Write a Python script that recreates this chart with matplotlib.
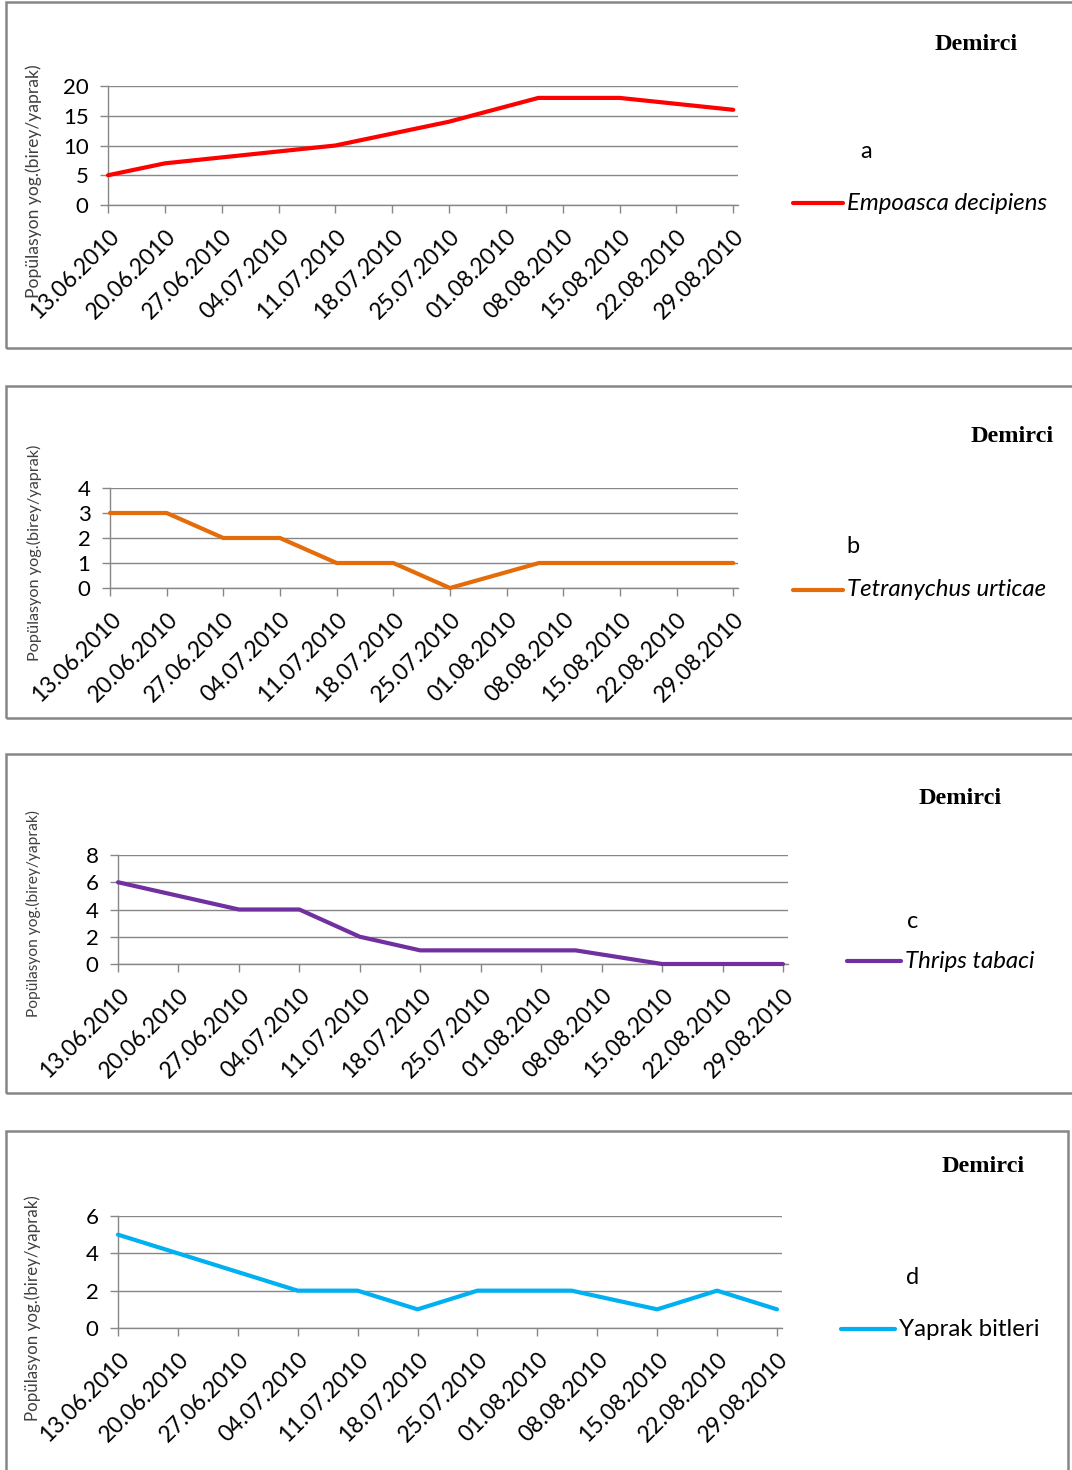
import matplotlib
matplotlib.use("Agg")
import matplotlib.pyplot as plt
from matplotlib.patches import Rectangle
from matplotlib.lines import Line2D
import pandas as pd

# ---- data -------------------------------------------------------------
sample_dates = ["13.06.2010", "20.06.2010", "27.06.2010", "04.07.2010",
                "11.07.2010", "18.07.2010", "25.07.2010", "05.08.2010",
                "15.08.2010", "22.08.2010", "29.08.2010"]

tick_labels = ["13.06.2010", "20.06.2010", "27.06.2010", "04.07.2010",
               "11.07.2010", "18.07.2010", "25.07.2010", "01.08.2010",
               "08.08.2010", "15.08.2010", "22.08.2010", "29.08.2010"]

empoasca = [5, 7, 8, 9, 10, 12, 14, 18, 18, 17, 16]
tetranychus = [3, 3, 2, 2, 1, 1, 0, 1, 1, 1, 1]
thrips = [6, 5, 4, 4, 2, 1, 1, 1, 0, 0, 0]
aphids = [5, 4, 3, 2, 2, 1, 2, 2, 1, 2, 1]

series_names = ["Empoasca decipiens", "Tetranychus urticae", "Thrips tabaci", "Yaprak bitleri"]
panel_letters = ["a", "b", "c", "d"]
location = "Demirci"
y_label = "Popülasyon yog.(birey/yaprak)"

# ---- figure -----------------------------------------------------------
W, H = 1072, 1470
fig = plt.figure(figsize=(W / 100, H / 100), dpi=100)
fig.patch.set_facecolor("white")

SANS = ["Lato", "DejaVu Sans"]
SERIF = ["Liberation Serif", "DejaVu Serif"]
GRID = "#878787"


def fx(x):
    return x / W


def fy(y):
    return 1 - y / H


x_dates = pd.to_datetime(sample_dates, format="%d.%m.%Y")
x_ticks = pd.to_datetime(tick_labels, format="%d.%m.%Y")

panels = [
    dict(vals=empoasca, color="#FF0000", ymax=20, ystep=5, italic=True,
         box=(6, 2, 1090, 348), plot=(108, 86, 738, 205),
         title=(976, 44), letter=(866, 151), leg=(793, 843, 203),
         ylab=(34, 181), ylab_size=12.6),
    dict(vals=tetranychus, color="#E46C0A", ymax=4, ystep=1, italic=True,
         box=(6, 386, 1090, 718), plot=(110, 488, 738, 588),
         title=(1012, 437), letter=(853, 547), leg=(793, 843, 590),
         ylab=(34, 553), ylab_size=11.7),
    dict(vals=thrips, color="#7030A0", ymax=8, ystep=2, italic=True,
         box=(6, 754, 1090, 1093), plot=(118, 855, 788, 964),
         title=(960, 799), letter=(913, 922), leg=(847, 901, 961),
         ylab=(33, 913), ylab_size=11.2),
    dict(vals=aphids, color="#00B0F0", ymax=6, ystep=2, italic=False,
         box=(6, 1131, 1068, 1490), plot=(118, 1216, 782, 1328),
         title=(983, 1166), letter=(913, 1278), leg=(841, 895, 1329),
         ylab=(33, 1308), ylab_size=12.2),
]

for p, name, letter in zip(panels, series_names, panel_letters):
    # panel frame
    bx0, by0, bx1, by1 = p["box"]
    fig.add_artist(Rectangle((fx(bx0), fy(by1)), fx(bx1) - fx(bx0), (by1 - by0) / H,
                             transform=fig.transFigure, fill=False,
                             edgecolor="#868686", linewidth=1.8, clip_on=False))

    x0, y0, x1, y1 = p["plot"]
    ax = fig.add_axes([fx(x0), fy(y1), fx(x1) - fx(x0), (y1 - y0) / H])
    ax.plot(x_dates, p["vals"], color=p["color"], lw=3.0,
            solid_joinstyle="round", solid_capstyle="round", clip_on=False, zorder=3)

    ax.set_ylim(0, p["ymax"])
    ax.set_yticks(range(0, p["ymax"] + 1, p["ystep"]))
    ax.set_xlim(x_dates[0], x_dates[-1] + pd.Timedelta(hours=14))
    ax.set_xticks(x_ticks)
    ax.set_xticklabels(tick_labels, rotation=45, ha="right", va="top",
                       rotation_mode="anchor", family=SANS, fontsize=16.5)
    for t in ax.get_yticklabels():
        t.set_family(SANS)
        t.set_fontsize(16)

    ax.grid(axis="y", color=GRID, lw=1.0)
    ax.set_axisbelow(True)
    for s in ("top", "right"):
        ax.spines[s].set_visible(False)
    for s in ("left", "bottom"):
        ax.spines[s].set_color(GRID)
        ax.spines[s].set_linewidth(1.0)
    ax.tick_params(axis="both", color=GRID, labelcolor="black", length=6, width=1.0)
    ax.tick_params(axis="y", pad=8)
    ax.tick_params(axis="x", pad=9)
    ax.set_facecolor("none")

    # axis title on the left
    fig.text(fx(p["ylab"][0]), fy(p["ylab"][1]), y_label, rotation=90,
             ha="center", va="center", family=SANS, fontsize=p["ylab_size"],
             color="#404040")

    # location title and panel letter
    fig.text(fx(p["title"][0]), fy(p["title"][1]), location, ha="center", va="center",
             family=SERIF, fontweight="bold", fontsize=17.5)
    fig.text(fx(p["letter"][0]), fy(p["letter"][1]), letter, ha="center", va="center",
             family=SANS, fontsize=17)

    # legend entry
    lx0, lx1, ly = p["leg"]
    fig.add_artist(Line2D([fx(lx0), fx(lx1)], [fy(ly), fy(ly)], transform=fig.transFigure,
                          color=p["color"], lw=3.0, solid_capstyle="round"))
    fig.text(fx(lx1 + 4), fy(ly), name, ha="left", va="center", family=SANS,
             fontsize=17.3, style="italic" if p["italic"] else "normal")

fig.savefig("out.png", dpi=100, facecolor="white")
